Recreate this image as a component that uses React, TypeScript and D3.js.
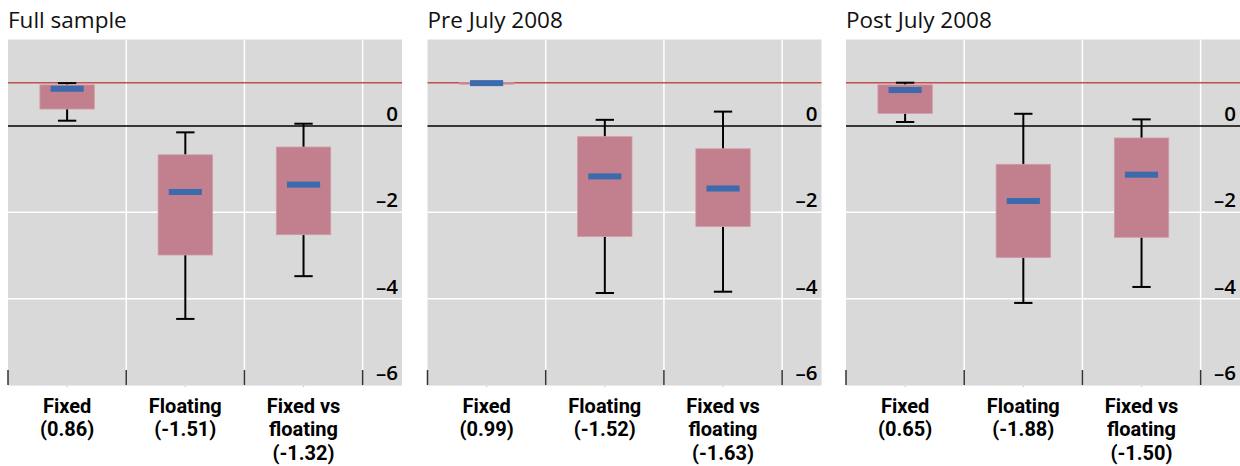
import React from 'react';
import * as d3 from 'd3';

// Panel titles and categories
const panelTitles = ['Full sample', 'Pre July 2008', 'Post July 2008'];
const categories = ['Fixed', 'Floating', 'Fixed vs floating'];
const categoryLines = [['Fixed'], ['Floating'], ['Fixed vs', 'floating']];

// Values quoted under each category, per panel
const labelValues = [
  [0.86, -1.51, -1.32],
  [0.99, -1.52, -1.63],
  [0.65, -1.88, -1.5],
];

// Box-plot statistics, per panel (rows) and category (columns)
const whiskerHigh = [
  [0.99, -0.15, 0.05],
  [1.0, 0.14, 0.33],
  [1.0, 0.28, 0.15],
];
const upperQuartile = [
  [0.95, -0.67, -0.49],
  [1.0, -0.25, -0.53],
  [0.95, -0.89, -0.28],
];
const medians = [
  [0.86, -1.53, -1.36],
  [0.99, -1.17, -1.45],
  [0.83, -1.74, -1.13],
];
const lowerQuartile = [
  [0.39, -2.99, -2.52],
  [0.97, -2.56, -2.33],
  [0.29, -3.05, -2.58],
];
const whiskerLow = [
  [0.12, -4.47, -3.48],
  [0.97, -3.87, -3.84],
  [0.09, -4.1, -3.73],
];

const yTicks = [0, -2, -4, -6];
const yDomain: [number, number] = [2, -6];
const referenceLevel = 1;

// Layout
const W = 1240;
const H = 466;
const panelLeft = [8, 427.5, 846];
const panelWidth = 394;
const plotTop = 39.5;
const plotBottom = 385;
const FONT = '"Open Sans", "Noto Sans", sans-serif';
const LABEL_FONT = 'Roboto, "Open Sans", sans-serif';

const COLORS = {
  bg: '#d9d9d9',
  grid: '#ffffff',
  box: '#c27f8e',
  median: '#3b6aad',
  ref: '#c0504d',
  ink: '#000000',
};

function fmt(v: number) {
  return `(${v.toFixed(2)})`;
}

function Panel({ p }: { p: number }) {
  const x0 = panelLeft[p];
  const x1 = x0 + panelWidth;
  const step = panelWidth / 3.333;
  const x = d3
    .scaleBand<string>()
    .domain(categories)
    .range([x0, x0 + step * 3])
    .paddingInner(0)
    .paddingOuter(0);
  const y = d3.scaleLinear().domain(yDomain).range([plotTop, plotBottom]);
  const bw = x.bandwidth();
  const boxW = bw * 0.46;
  const medW = bw * 0.28;
  const capW = bw * 0.155;
  const boundaries = [...categories.map((c) => x(c)!), x0 + step * 3];

  return (
    <g>
      <text x={x0} y={28} fontFamily={FONT} fontSize={22.5} fill="#111">
        {panelTitles[p]}
      </text>
      <rect x={x0} y={plotTop} width={panelWidth} height={plotBottom - plotTop} fill={COLORS.bg} />
      {/* horizontal gridlines */}
      {yTicks
        .filter((t) => t !== 0 && t !== yDomain[1])
        .map((t) => (
          <line key={t} x1={x0} x2={x1} y1={y(t)} y2={y(t)} stroke={COLORS.grid} strokeWidth={1.5} />
        ))}
      {/* vertical gridlines between categories */}
      {boundaries.slice(1).map((bx, i) => (
        <line key={i} x1={bx} x2={bx} y1={plotTop} y2={plotBottom} stroke={COLORS.grid} strokeWidth={1.5} />
      ))}
      {/* bottom ticks */}
      {boundaries.map((bx, i) => (
        <line key={'t' + i} x1={bx} x2={bx} y1={plotBottom - 15} y2={plotBottom} stroke="#333" strokeWidth={1.5} />
      ))}
      {categories.map((c) => (
        <line
          key={'m' + c}
          x1={x(c)! + bw / 2}
          x2={x(c)! + bw / 2}
          y1={plotBottom}
          y2={plotBottom + 2}
          stroke="#bbb"
          strokeWidth={1}
        />
      ))}
      <line x1={x0} x2={x1} y1={plotBottom + 0.5} y2={plotBottom + 0.5} stroke="#e8e8e8" strokeWidth={1} />
      {/* reference line */}
      <line x1={x0} x2={x1} y1={y(referenceLevel)} y2={y(referenceLevel)} stroke={COLORS.ref} strokeWidth={1.5} />
      {/* boxes */}
      {categories.map((c, i) => {
        const cx = x(c)! + bw / 2;
        const hi = whiskerHigh[p][i];
        const q3 = upperQuartile[p][i];
        const md = medians[p][i];
        const q1 = lowerQuartile[p][i];
        const lo = whiskerLow[p][i];
        return (
          <g key={c}>
            <line x1={cx} x2={cx} y1={y(hi)} y2={y(q3)} stroke={COLORS.ink} strokeWidth={2} />
            <line x1={cx} x2={cx} y1={y(q1)} y2={y(lo)} stroke={COLORS.ink} strokeWidth={2} />
            <line x1={cx - capW / 2} x2={cx + capW / 2} y1={y(hi)} y2={y(hi)} stroke={COLORS.ink} strokeWidth={2} />
            <line x1={cx - capW / 2} x2={cx + capW / 2} y1={y(lo)} y2={y(lo)} stroke={COLORS.ink} strokeWidth={2} />
            <rect
              x={cx - boxW / 2}
              y={y(q3)}
              width={boxW}
              height={Math.max(y(q1) - y(q3), 1.5)}
              fill={COLORS.box}
              stroke="#d29aa6"
              strokeWidth={0.8}
            />
            <rect x={cx - medW / 2} y={y(md) - 3} width={medW} height={6} fill={COLORS.median} />
          </g>
        );
      })}
      {/* zero line */}
      <line x1={x0} x2={x1} y1={y(0)} y2={y(0)} stroke={COLORS.ink} strokeWidth={1.5} />
      {/* y tick labels, inside the right margin of the plot */}
      {yTicks.map((t) => (
        <text
          key={'y' + t}
          x={x1 - 4}
          y={y(t) - 5}
          textAnchor="end"
          fontFamily={FONT}
          fontSize={20.5}
          fontWeight={600}
          fill="#000"
        >
          {t === 0 ? '0' : `\u2013${Math.abs(t)}`}
        </text>
      ))}
      {/* category labels, one text element per line */}
      {categories.map((c, i) => {
        const lines = [...categoryLines[i], fmt(labelValues[p][i])];
        return lines.map((ln, k) => (
          <text
            key={'c' + c + k}
            x={x(c)! + bw / 2}
            y={412.5 + k * 23.5}
            textAnchor="middle"
            fontFamily={LABEL_FONT}
            fontSize={20}
            fontWeight={700}
            fill="#000"
          >
            {ln}
          </text>
        ));
      })}
    </g>
  );
}

export default function App() {
  return (
    <svg
      width={W}
      height={H}
      viewBox={`0 0 ${W} ${H}`}
      style={{ position: 'absolute', left: 0, top: 0, background: '#fff' }}
    >
      {panelTitles.map((_, p) => (
        <Panel key={p} p={p} />
      ))}
    </svg>
  );
}
